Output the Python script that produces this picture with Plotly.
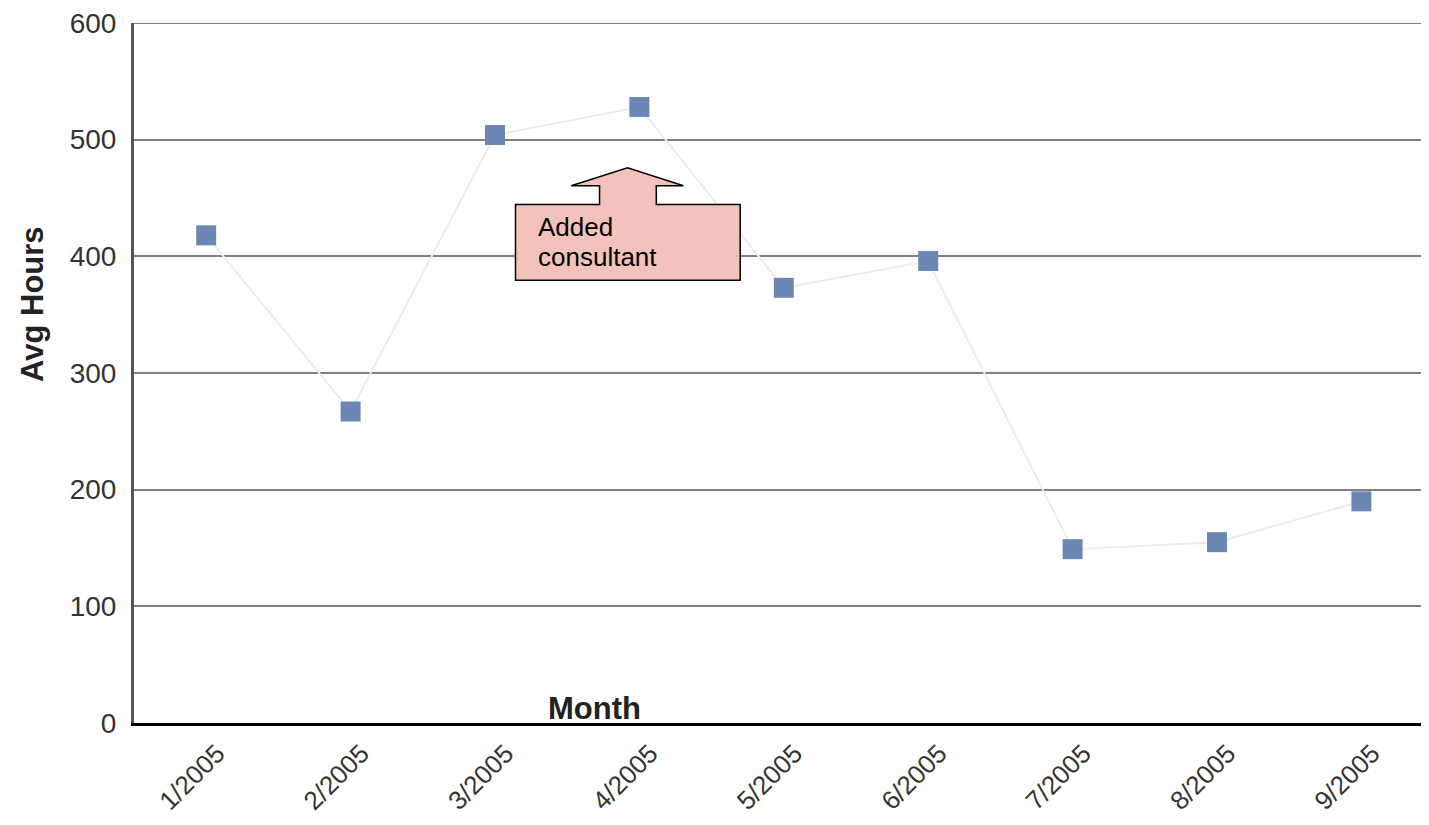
import plotly.graph_objects as go

months = ["1/2005", "2/2005", "3/2005", "4/2005", "5/2005", "6/2005", "7/2005", "8/2005", "9/2005"]
avg_hours = [418, 267, 504, 528, 373, 396, 149, 155, 190]
y_ticks = [0, 100, 200, 300, 400, 500, 600]
y_max = 600

callout_line1 = "Added"
callout_line2 = "consultant"

# page body has an 8px margin on every side: keep the figure inside the 1429x825 window
W, H = 1413, 809
L, T = 126, 15
PW, PH = W - L, 700
OFF = 8
CAT_PX = 144.4  # pixels per category in the reference


def px_x(sx):
    return (sx - OFF - L) / PW


def px_y(sy):
    return (T + PH - (sy - OFF)) / PH


fig = go.Figure()
fig.add_trace(go.Scatter(
    x=months, y=avg_hours, mode="lines+markers",
    line=dict(color="#ececec", width=2),
    marker=dict(symbol="square", size=20, color="#6d87b5"),
    showlegend=False,
))

# top border gridline (plotly drops gridlines sitting on the range edge)
fig.add_shape(type="line", xref="paper", yref="y", x0=0, x1=1, y0=y_max, y1=y_max,
              line=dict(color="#808080", width=2), layer="below")

# callout arrow box (in data coordinates: x = category index, y = value)
xl, xr = 2.142, 3.698
yb, yt = 379.5, 444.5
sl, sr = 2.724, 3.117
wl, wr = 2.528, 3.305
wy, ay, ax = 460.5, 476, 2.918
path = (f"M {xl} {yb} L {xl} {yt} L {sl} {yt} L {sl} {wy} L {wl} {wy} "
        f"L {ax} {ay} L {wr} {wy} L {sr} {wy} L {sr} {yt} L {xr} {yt} L {xr} {yb} Z")
fig.add_shape(type="path", path=path, xref="x", yref="y",
              fillcolor="#f3c3bb", line=dict(color="black", width=1.5), layer="above")
callfont = dict(family="Liberation Sans, Arial", size=26, color="black")
fig.add_annotation(x=px_x(536), y=px_y(227), xref="paper", yref="paper", text=callout_line1,
                   showarrow=False, xanchor="left", yanchor="middle", font=callfont)
fig.add_annotation(x=px_x(536), y=px_y(257), xref="paper", yref="paper", text=callout_line2,
                   showarrow=False, xanchor="left", yanchor="middle", font=callfont)

titlefont = dict(family="Liberation Sans, Arial", size=31, color="#222")
fig.add_annotation(x=px_x(594), y=px_y(708), xref="paper", yref="paper", text="<b>Month</b>",
                   showarrow=False, xanchor="center", yanchor="middle", font=titlefont)
fig.add_annotation(x=px_x(32), y=px_y(304), xref="paper", yref="paper",
                   text="<b>Avg Hours</b>", textangle=-90, showarrow=False,
                   xanchor="center", yanchor="middle", font=titlefont)

fig.update_layout(
    width=W, height=H,
    margin=dict(l=L, r=0, t=T, b=H - T - PH, autoexpand=False),
    plot_bgcolor="white", paper_bgcolor="white",
    font=dict(family="Liberation Sans, Arial", color="#333"),
)

fig.update_xaxes(
    type="category", categoryorder="array", categoryarray=months,
    range=[-0.5, -0.5 + PW / CAT_PX], tickangle=-45, automargin=False,
    showline=True, linecolor="black", linewidth=3,
    showgrid=False, ticks="", tickfont=dict(size=26, color="#333"),
    ticklabelstandoff=2, ticklabelshift=11,
)
fig.update_yaxes(
    range=[0, y_max], tickvals=y_ticks, automargin=False,
    showline=True, linecolor="#555", linewidth=3,
    showgrid=True, gridcolor="#808080", gridwidth=2,
    zeroline=False, ticks="", tickfont=dict(size=28, color="#333"),
    ticklabelstandoff=9, ticklabeloverflow="allow",
)

fig.write_html("out.html")
